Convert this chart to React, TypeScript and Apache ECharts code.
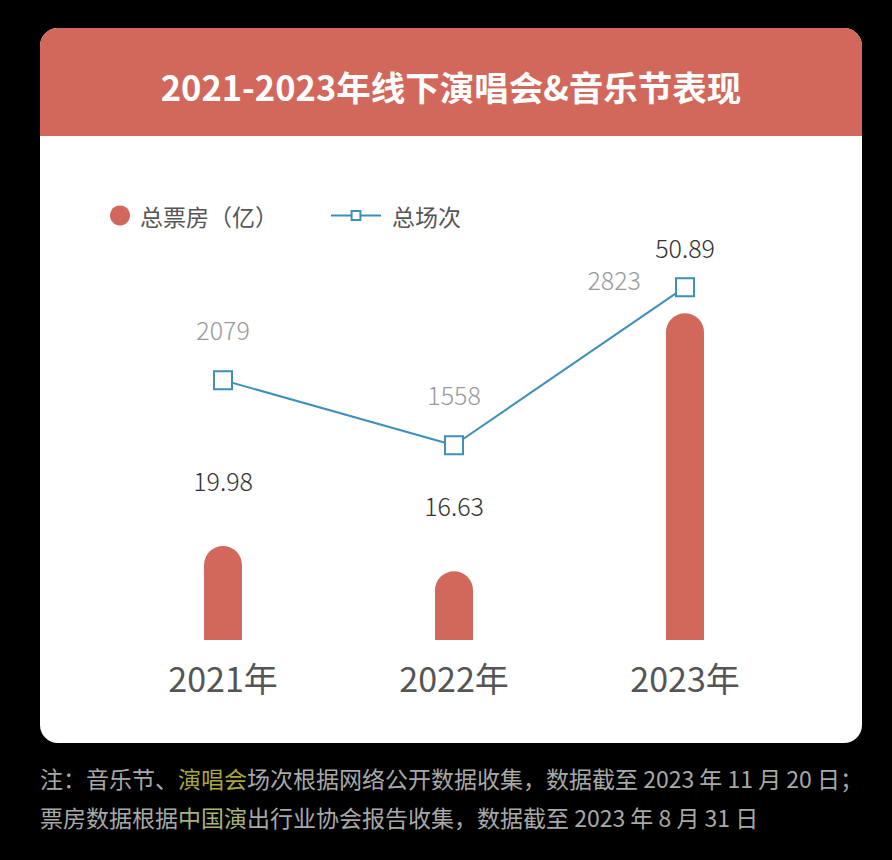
import React, { useEffect, useRef } from "react";
import * as echarts from "echarts";

const years = ["2021年", "2022年", "2023年"];
const boxOffice = [19.98, 16.63, 50.89];
const shows = [2079, 1558, 2823];
const seriesNames = ["总票房（亿）", "总场次"];
const titleText = "2021-2023年线下演唱会&音乐节表现";
const noteLine1 = "注：音乐节、{h|演唱会}场次根据网络公开数据收集，数据截至 2023 年 11 月 20 日；";
const noteLine2 = "票房数据根据{g|中国演}出行业协会报告收集，数据截至 2023 年 8 月 31 日";

const FONT = '"Noto Sans CJK SC", "Noto Sans", sans-serif';
const RED = "#D1685B";
const BLUE = "#3E90B9";

export default function App() {
  const ref = useRef<HTMLDivElement>(null);
  useEffect(() => {
    if (!ref.current) return;
    const chart = echarts.init(ref.current, undefined, { renderer: "svg" });
    chart.setOption({
      animation: false,
      backgroundColor: "#000",
      textStyle: { fontFamily: FONT },
      graphic: [
        {
          type: "rect",
          z: -10,
          shape: { x: 40, y: 28, width: 822, height: 715, r: 18 },
          style: { fill: "#fff" },
        },
        {
          type: "rect",
          z: -9,
          shape: { x: 40, y: 28, width: 822, height: 108, r: [18, 18, 0, 0] },
          style: { fill: RED },
        },
        {
          type: "text",
          x: 451,
          y: 86,
          style: {
            text: titleText,
            fill: "#fff",
            font: `bold 34.5px ${FONT}`,
            align: "center",
            verticalAlign: "middle",
          },
        },
        {
          type: "text",
          x: 40,
          y: 778,
          style: {
            text: noteLine1,
            fill: "#a8a8a8",
            font: `23px ${FONT}`,
            verticalAlign: "middle",
            rich: {
              h: { fill: "#aaa63c", font: `23px ${FONT}` },
            },
          },
        },
        {
          type: "text",
          x: 40,
          y: 817,
          style: {
            text: noteLine2,
            fill: "#a8a8a8",
            font: `23px ${FONT}`,
            verticalAlign: "middle",
            rich: {
              g: { fill: "#a9b27a", font: `23px ${FONT}` },
            },
          },
        },
      ],
      legend: [
        {
          data: [seriesNames[0]],
          left: 110,
          top: 204,
          padding: 0,
          icon: "circle",
          itemWidth: 30,
          itemHeight: 20,
          textStyle: { fontSize: 23, color: "#555", fontFamily: FONT },
        },
        {
          data: [seriesNames[1]],
          left: 330,
          top: 204,
          padding: 0,
          itemWidth: 50,
          itemHeight: 11,
          textStyle: { fontSize: 23, color: "#555", fontFamily: FONT, padding: [0, 0, 0, 6] },
        },
      ],
      grid: { left: 107.5, right: 91.5, top: 280, bottom: 220 },
      xAxis: {
        type: "category",
        data: years,
        axisLine: { show: false },
        axisTick: { show: false },
        axisLabel: { fontSize: 34, color: "#555", margin: 20, fontFamily: FONT },
      },
      yAxis: [
        { type: "value", min: 7.5, max: 55.3, show: false, splitLine: { show: false } },
        { type: "value", min: 0, max: 2880, show: false, splitLine: { show: false } },
      ],
      series: [
        {
          name: seriesNames[0],
          type: "bar",
          yAxisIndex: 0,
          data: boxOffice,
          barWidth: 38,
          itemStyle: { color: RED, borderRadius: [19, 19, 0, 0] },
          label: {
            show: true,
            position: "top",
            distance: 54,
            fontSize: 25,
            fontWeight: 300,
            color: "#333",
            fontFamily: FONT,
          },
        },
        {
          name: seriesNames[1],
          type: "line",
          yAxisIndex: 1,
          data: shows.map((v, i) =>
            i === 2
              ? { value: v, label: { position: "left", distance: 34, offset: [0, -8] } }
              : v
          ),
          symbol: "emptyRect",
          symbolSize: 18,
          lineStyle: { color: BLUE, width: 2 },
          itemStyle: { color: BLUE, borderWidth: 2 },
          label: {
            show: true,
            position: "top",
            distance: 29,
            fontSize: 25,
            fontWeight: 300,
            color: "#9a9a9a",
            fontFamily: FONT,
          },
        },
      ],
    });
    return () => chart.dispose();
  }, []);
  return (
    <div
      ref={ref}
      style={{ position: "fixed", left: 0, top: 0, width: 892, height: 860 }}
    />
  );
}
